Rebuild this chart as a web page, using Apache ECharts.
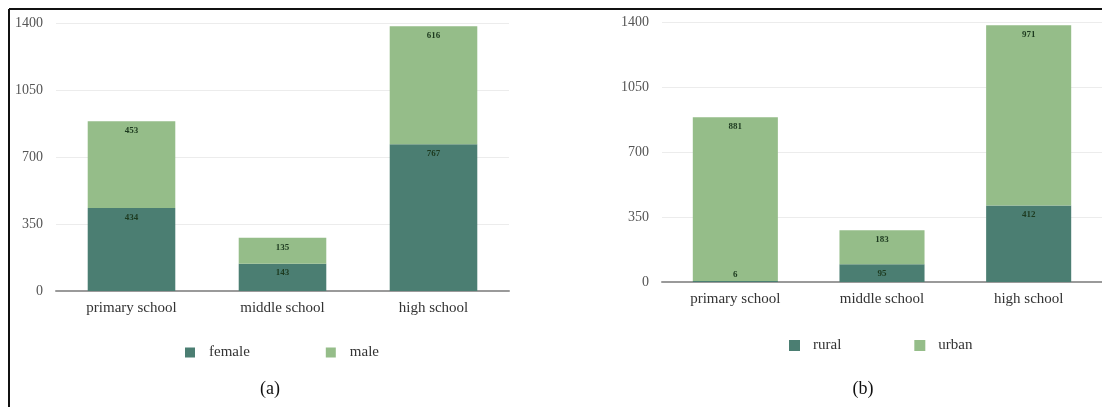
<!DOCTYPE html>
<html>
<head>
<meta charset="utf-8">
<script src="https://cdn.jsdelivr.net/npm/echarts@6/dist/echarts.min.js"></script>
<style>
html,body{margin:0;padding:0;background:#fff;}
#main{width:1102px;height:407px;}
</style>
</head>
<body>
<div id="main"></div>
<script>
// ---- data ----
var categories = ['primary school', 'middle school', 'high school'];
var yTicks = [0, 350, 700, 1050, 1400];
var female = [434, 143, 767];
var male = [453, 135, 616];
var rural = [6, 95, 412];
var urban = [881, 183, 971];
var panelTitles = ['(a)', '(b)'];

var DARK = '#4b7e72';
var LIGHT = '#95bd89';
var FONT = 'Liberation Serif';

function buildData(arr) {
  return arr.map(function (v) {
    if (v < 30) {
      return { value: v, label: { position: 'insideBottom', distance: 3 } };
    }
    return v;
  });
}

function yAxisCfg(gi) {
  return {
    type: 'value', gridIndex: gi, min: yTicks[0], max: yTicks[yTicks.length - 1], interval: yTicks[1] - yTicks[0],
    axisLine: { show: false }, axisTick: { show: false },
    axisLabel: { color: '#555', fontFamily: FONT, fontSize: 14, margin: 13, formatter: function (v) { return String(v); } },
    splitLine: { lineStyle: { color: '#ececec', width: 1 } }
  };
}
function xAxisCfg(gi) {
  return {
    type: 'category', gridIndex: gi, data: categories,
    axisLine: { lineStyle: { color: '#9a9a9a', width: 2 } },
    axisTick: { show: false },
    axisLabel: { color: '#333', fontFamily: FONT, fontSize: 15, margin: 10 }
  };
}
function barSeries(name, arr, gi, color) {
  return {
    name: name, type: 'bar', stack: 's' + gi, xAxisIndex: gi, yAxisIndex: gi,
    barWidth: '58%', data: buildData(arr),
    itemStyle: { color: color },
    label: { show: true, position: 'insideTop', distance: 5, color: '#1d3a1f', fontFamily: FONT, fontSize: 9, fontWeight: 'bold' }
  };
}

var chart = echarts.init(document.getElementById('main'));
chart.setOption({
  animation: false,
  backgroundColor: '#fff',
  grid: [
    { left: 56, right: 593, top: 23, bottom: 116 },
    { left: 662, right: -1, top: 22, bottom: 125 }
  ],
  xAxis: [xAxisCfg(0), xAxisCfg(1)],
  yAxis: [yAxisCfg(0), yAxisCfg(1)],
  legend: [
    { data: ['female', 'male'], left: 180, top: 340, itemWidth: 10, itemHeight: 10, itemGap: 76, icon: 'rect',
      textStyle: { fontFamily: FONT, fontSize: 15, color: '#333', padding: [0, 0, 0, 9] } },
    { data: ['rural', 'urban'], left: 784, top: 333, itemWidth: 11, itemHeight: 11, itemGap: 73, icon: 'rect',
      textStyle: { fontFamily: FONT, fontSize: 15, color: '#333', padding: [0, 0, 0, 8] } }
  ],
  title: [
    { text: panelTitles[0], left: 265, top: 375, textAlign: 'center', textStyle: { fontFamily: FONT, fontSize: 18, fontWeight: 'normal', color: '#111' } },
    { text: panelTitles[1], left: 858, top: 375, textAlign: 'center', textStyle: { fontFamily: FONT, fontSize: 18, fontWeight: 'normal', color: '#111' } }
  ],
  graphic: [
    { type: 'line', shape: { x1: 9, y1: 9, x2: 1102, y2: 9 }, style: { stroke: '#111', lineWidth: 2 } },
    { type: 'line', shape: { x1: 9, y1: 9, x2: 9, y2: 407 }, style: { stroke: '#111', lineWidth: 2 } }
  ],
  series: [
    barSeries('female', female, 0, DARK),
    barSeries('male', male, 0, LIGHT),
    barSeries('rural', rural, 1, DARK),
    barSeries('urban', urban, 1, LIGHT)
  ]
});
</script>
</body>
</html>
